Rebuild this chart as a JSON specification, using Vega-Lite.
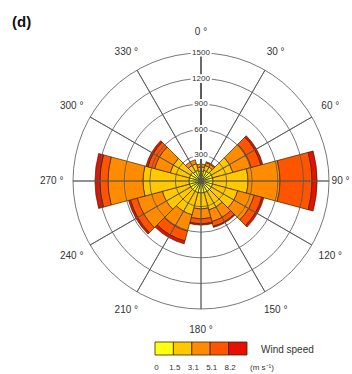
{
  "$schema": "https://vega.github.io/schema/vega-lite/v6.json",
  "width": 302,
  "height": 302,
  "autosize": {"type": "none"},
  "padding": {"left": 50, "top": 30, "right": 0, "bottom": 42},
  "background": "white",
  "title": {"text": "(d)", "anchor": "start", "frame": "group", "dx": -38, "offset": -18, "fontSize": 15, "fontWeight": "bold", "font": "Liberation Sans", "color": "#111", "baseline": "bottom"},
  "config": {"view": {"stroke": null}, "font": "Liberation Sans"},
  "datasets": {
    "wind": [
      {"dir": 0, "from": -15, "to": 15, "speed": "0-1.5", "count": 117},
      {"dir": 0, "from": -15, "to": 15, "speed": "1.5-3.1", "count": 47},
      {"dir": 0, "from": -15, "to": 15, "speed": "3.1-5.1", "count": 35},
      {"dir": 30, "from": 15, "to": 45, "speed": "0-1.5", "count": 129},
      {"dir": 30, "from": 15, "to": 45, "speed": "1.5-3.1", "count": 59},
      {"dir": 30, "from": 15, "to": 45, "speed": "3.1-5.1", "count": 35},
      {"dir": 30, "from": 15, "to": 45, "speed": "5.1-8.2", "count": 11},
      {"dir": 60, "from": 45, "to": 75, "speed": "0-1.5", "count": 141},
      {"dir": 60, "from": 45, "to": 75, "speed": "1.5-3.1", "count": 246},
      {"dir": 60, "from": 45, "to": 75, "speed": "3.1-5.1", "count": 222},
      {"dir": 60, "from": 45, "to": 75, "speed": "5.1-8.2", "count": 118},
      {"dir": 60, "from": 45, "to": 75, "speed": ">8.2", "count": 23},
      {"dir": 90, "from": 75, "to": 105, "speed": "0-1.5", "count": 141},
      {"dir": 90, "from": 75, "to": 105, "speed": "1.5-3.1", "count": 410},
      {"dir": 90, "from": 75, "to": 105, "speed": "3.1-5.1", "count": 375},
      {"dir": 90, "from": 75, "to": 105, "speed": "5.1-8.2", "count": 375},
      {"dir": 90, "from": 75, "to": 105, "speed": ">8.2", "count": 59},
      {"dir": 120, "from": 105, "to": 135, "speed": "0-1.5", "count": 141},
      {"dir": 120, "from": 105, "to": 135, "speed": "1.5-3.1", "count": 304},
      {"dir": 120, "from": 105, "to": 135, "speed": "3.1-5.1", "count": 200},
      {"dir": 120, "from": 105, "to": 135, "speed": "5.1-8.2", "count": 93},
      {"dir": 120, "from": 105, "to": 135, "speed": ">8.2", "count": 24},
      {"dir": 150, "from": 135, "to": 165, "speed": "0-1.5", "count": 141},
      {"dir": 150, "from": 135, "to": 165, "speed": "1.5-3.1", "count": 211},
      {"dir": 150, "from": 135, "to": 165, "speed": "3.1-5.1", "count": 140},
      {"dir": 150, "from": 135, "to": 165, "speed": "5.1-8.2", "count": 59},
      {"dir": 150, "from": 135, "to": 165, "speed": ">8.2", "count": 12},
      {"dir": 180, "from": 165, "to": 195, "speed": "0-1.5", "count": 141},
      {"dir": 180, "from": 165, "to": 195, "speed": "1.5-3.1", "count": 187},
      {"dir": 180, "from": 165, "to": 195, "speed": "3.1-5.1", "count": 117},
      {"dir": 180, "from": 165, "to": 195, "speed": "5.1-8.2", "count": 59},
      {"dir": 180, "from": 165, "to": 195, "speed": ">8.2", "count": 12},
      {"dir": 210, "from": 195, "to": 225, "speed": "0-1.5", "count": 141},
      {"dir": 210, "from": 195, "to": 225, "speed": "1.5-3.1", "count": 269},
      {"dir": 210, "from": 195, "to": 225, "speed": "3.1-5.1", "count": 199},
      {"dir": 210, "from": 195, "to": 225, "speed": "5.1-8.2", "count": 118},
      {"dir": 210, "from": 195, "to": 225, "speed": ">8.2", "count": 35},
      {"dir": 240, "from": 225, "to": 255, "speed": "0-1.5", "count": 141},
      {"dir": 240, "from": 225, "to": 255, "speed": "1.5-3.1", "count": 328},
      {"dir": 240, "from": 225, "to": 255, "speed": "3.1-5.1", "count": 305},
      {"dir": 240, "from": 225, "to": 255, "speed": "5.1-8.2", "count": 82},
      {"dir": 240, "from": 225, "to": 255, "speed": ">8.2", "count": 23},
      {"dir": 270, "from": 255, "to": 285, "speed": "0-1.5", "count": 141},
      {"dir": 270, "from": 255, "to": 285, "speed": "1.5-3.1", "count": 539},
      {"dir": 270, "from": 255, "to": 285, "speed": "3.1-5.1", "count": 410},
      {"dir": 270, "from": 255, "to": 285, "speed": "5.1-8.2", "count": 94},
      {"dir": 270, "from": 255, "to": 285, "speed": ">8.2", "count": 58},
      {"dir": 300, "from": 285, "to": 315, "speed": "0-1.5", "count": 141},
      {"dir": 300, "from": 285, "to": 315, "speed": "1.5-3.1", "count": 234},
      {"dir": 300, "from": 285, "to": 315, "speed": "3.1-5.1", "count": 188},
      {"dir": 300, "from": 285, "to": 315, "speed": "5.1-8.2", "count": 82},
      {"dir": 300, "from": 285, "to": 315, "speed": ">8.2", "count": 23},
      {"dir": 330, "from": 315, "to": 345, "speed": "0-1.5", "count": 129},
      {"dir": 330, "from": 315, "to": 345, "speed": "1.5-3.1", "count": 82},
      {"dir": 330, "from": 315, "to": 345, "speed": "3.1-5.1", "count": 47}
    ],
    "rings": [{"r": 300}, {"r": 600}, {"r": 900}, {"r": 1200}, {"r": 1500}],
    "spokes": [{"a": 0}, {"a": 30}, {"a": 60}, {"a": 90}, {"a": 120}, {"a": 150}, {"a": 180}, {"a": 210}, {"a": 240}, {"a": 270}, {"a": 300}, {"a": 330}],
    "compass": [
      {"a": 0, "t": "0 °"}, {"a": 30, "t": "30 °"}, {"a": 60, "t": "60 °"}, {"a": 90, "t": "90 °"},
      {"a": 120, "t": "120 °"}, {"a": 150, "t": "150 °"}, {"a": 180, "t": "180 °"}, {"a": 210, "t": "210 °"},
      {"a": 240, "t": "240 °"}, {"a": 270, "t": "270 °"}, {"a": 300, "t": "300 °"}, {"a": 330, "t": "330 °"}
    ],
    "classes": [
      {"speed": "0-1.5", "lab": "0"},
      {"speed": "1.5-3.1", "lab": "1.5"},
      {"speed": "3.1-5.1", "lab": "3.1"},
      {"speed": "5.1-8.2", "lab": "5.1"},
      {"speed": ">8.2", "lab": "8.2"}
    ],
    "legtitle": [{"t": "Wind speed", "u": "(m s⁻¹)"}]
  },
  "layer": [
    {
      "data": {"name": "wind"},
      "transform": [
        {"stack": "count", "groupby": ["dir"], "sort": [{"field": "speed", "order": "ascending"}], "as": ["c0", "c1"]}
      ],
      "mark": {"type": "arc", "stroke": "#3b2500", "strokeWidth": 0.7},
      "encoding": {
        "theta": {"field": "from", "type": "quantitative", "scale": {"domain": [0, 360], "range": [0, 6.283185307], "nice": false, "zero": false}},
        "theta2": {"field": "to"},
        "radius": {"field": "c1", "type": "quantitative", "stack": null, "scale": {"type": "linear", "domain": [0, 1500], "range": [0, 128], "zero": true, "nice": false}},
        "radius2": {"field": "c0"},
        "color": {"field": "speed", "type": "nominal", "scale": {"domain": ["0-1.5", "1.5-3.1", "3.1-5.1", "5.1-8.2", ">8.2"], "range": ["#FFFF10", "#FFC800", "#FF8C00", "#FF5500", "#E81000"]}, "legend": null}
      }
    },
    {
      "data": {"name": "rings"},
      "mark": {"type": "arc", "filled": false, "stroke": "#555555", "strokeWidth": 0.8},
      "encoding": {
        "theta": {"datum": 0, "type": "quantitative"},
        "theta2": {"datum": 360},
        "radius": {"field": "r", "type": "quantitative", "stack": null}
      }
    },
    {
      "data": {"name": "spokes"},
      "mark": {"type": "arc", "filled": false, "stroke": "#555555", "strokeWidth": 0.8},
      "encoding": {
        "theta": {"field": "a", "type": "quantitative", "stack": null},
        "theta2": {"field": "a"},
        "radius": {"datum": 1500, "type": "quantitative"},
        "radius2": {"datum": 0}
      }
    },
    {
      "data": {"name": "rings"},
      "mark": {"type": "text", "fill": "white", "stroke": "white", "strokeWidth": 4, "fontSize": 8, "baseline": "middle"},
      "encoding": {
        "text": {"field": "r", "type": "quantitative"},
        "theta": {"datum": 0, "type": "quantitative"},
        "radius": {"field": "r", "type": "quantitative", "stack": null}
      }
    },
    {
      "data": {"name": "rings"},
      "mark": {"type": "text", "fill": "#333333", "fontSize": 8, "baseline": "middle"},
      "encoding": {
        "text": {"field": "r", "type": "quantitative"},
        "theta": {"datum": 0, "type": "quantitative"},
        "radius": {"field": "r", "type": "quantitative", "stack": null}
      }
    },
    {
      "data": {"name": "compass"},
      "transform": [{"filter": "datum.a != 90"}],
      "mark": {"type": "text", "fill": "#333333", "fontSize": 10, "baseline": "middle", "align": "center"},
      "encoding": {
        "text": {"field": "t", "type": "nominal"},
        "theta": {"field": "a", "type": "quantitative", "stack": null},
        "radius": {"datum": 1750, "type": "quantitative"}
      }
    },
    {
      "data": {"name": "compass"},
      "transform": [{"filter": "datum.a == 90"}],
      "mark": {"type": "text", "fill": "#333333", "fontSize": 10, "baseline": "middle", "align": "right"},
      "encoding": {
        "text": {"field": "t", "type": "nominal"},
        "theta": {"field": "a", "type": "quantitative", "stack": null},
        "radius": {"datum": 1740, "type": "quantitative"}
      }
    },
    {
      "data": {"name": "classes"},
      "mark": {"type": "rect", "stroke": "#3b2500", "strokeWidth": 0.8},
      "encoding": {
        "x": {"field": "speed", "type": "nominal", "sort": null, "scale": {"type": "band", "domain": ["0-1.5", "1.5-3.1", "3.1-5.1", "5.1-8.2", ">8.2"], "range": [105, 197], "paddingInner": 0, "paddingOuter": 0}, "axis": null},
        "y": {"datum": 0, "type": "quantitative", "scale": {"domain": [0, 2], "range": [312, 338], "nice": false, "zero": false}, "axis": null},
        "y2": {"datum": 1},
        "color": {"field": "speed", "type": "nominal", "legend": null}
      }
    },
    {
      "data": {"name": "classes"},
      "mark": {"type": "text", "fill": "#333333", "fontSize": 8, "baseline": "middle", "align": "center", "dx": 1.5},
      "encoding": {
        "x": {"field": "speed", "type": "nominal", "bandPosition": 0, "axis": null},
        "y": {"datum": 2, "type": "quantitative", "axis": null},
        "text": {"field": "lab", "type": "nominal"}
      }
    },
    {
      "data": {"name": "legtitle"},
      "mark": {"type": "text", "fill": "#333333", "fontSize": 10, "baseline": "middle", "align": "left", "dx": 14},
      "encoding": {
        "x": {"datum": ">8.2", "type": "nominal", "bandPosition": 1, "axis": null},
        "y": {"datum": 0.6, "type": "quantitative", "axis": null},
        "text": {"field": "t", "type": "nominal"}
      }
    },
    {
      "data": {"name": "legtitle"},
      "mark": {"type": "text", "fill": "#333333", "fontSize": 8, "baseline": "middle", "align": "left", "dx": 3},
      "encoding": {
        "x": {"datum": ">8.2", "type": "nominal", "bandPosition": 1, "axis": null},
        "y": {"datum": 2, "type": "quantitative", "axis": null},
        "text": {"field": "u", "type": "nominal"}
      }
    }
  ]
}
